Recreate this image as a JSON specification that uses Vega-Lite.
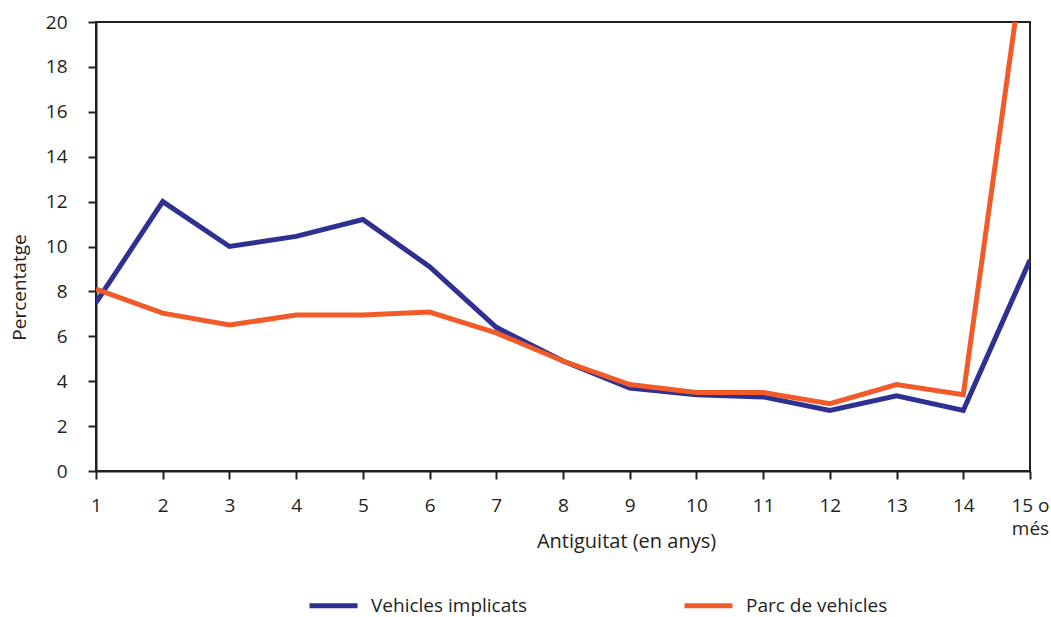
{
  "$schema": "https://vega.github.io/schema/vega-lite/v6.json",
  "width": 934,
  "height": 449,
  "autosize": {"type": "none"},
  "padding": {"left": 96, "top": 22, "right": 21, "bottom": 146},
  "background": "white",
  "config": {
    "font": "Open Sans",
    "view": {"stroke": "#231f20", "strokeWidth": 2},
    "axis": {"labelFont": "Open Sans", "titleFont": "Open Sans", "labelColor": "#231f20", "titleColor": "#231f20", "domainColor": "#231f20", "tickColor": "#231f20", "domainWidth": 2, "tickWidth": 2, "grid": false, "labelFontSize": 19, "titleFontSize": 19, "titleFontWeight": "normal", "tickSize": 8}
  },
  "data": {
    "values": [
      {"antiguitat": 1, "serie": "Vehicles implicats", "pct": 7.5},
      {"antiguitat": 2, "serie": "Vehicles implicats", "pct": 12.0},
      {"antiguitat": 3, "serie": "Vehicles implicats", "pct": 10.0},
      {"antiguitat": 4, "serie": "Vehicles implicats", "pct": 10.45},
      {"antiguitat": 5, "serie": "Vehicles implicats", "pct": 11.2},
      {"antiguitat": 6, "serie": "Vehicles implicats", "pct": 9.1},
      {"antiguitat": 7, "serie": "Vehicles implicats", "pct": 6.4},
      {"antiguitat": 8, "serie": "Vehicles implicats", "pct": 4.9},
      {"antiguitat": 9, "serie": "Vehicles implicats", "pct": 3.7},
      {"antiguitat": 10, "serie": "Vehicles implicats", "pct": 3.4},
      {"antiguitat": 11, "serie": "Vehicles implicats", "pct": 3.3},
      {"antiguitat": 12, "serie": "Vehicles implicats", "pct": 2.7},
      {"antiguitat": 13, "serie": "Vehicles implicats", "pct": 3.35},
      {"antiguitat": 14, "serie": "Vehicles implicats", "pct": 2.7},
      {"antiguitat": 15, "serie": "Vehicles implicats", "pct": 9.4},
      {"antiguitat": 1, "serie": "Parc de vehicles", "pct": 8.1},
      {"antiguitat": 2, "serie": "Parc de vehicles", "pct": 7.03},
      {"antiguitat": 3, "serie": "Parc de vehicles", "pct": 6.5},
      {"antiguitat": 4, "serie": "Parc de vehicles", "pct": 6.95},
      {"antiguitat": 5, "serie": "Parc de vehicles", "pct": 6.95},
      {"antiguitat": 6, "serie": "Parc de vehicles", "pct": 7.08},
      {"antiguitat": 7, "serie": "Parc de vehicles", "pct": 6.15},
      {"antiguitat": 8, "serie": "Parc de vehicles", "pct": 4.9},
      {"antiguitat": 9, "serie": "Parc de vehicles", "pct": 3.85},
      {"antiguitat": 10, "serie": "Parc de vehicles", "pct": 3.5},
      {"antiguitat": 11, "serie": "Parc de vehicles", "pct": 3.5},
      {"antiguitat": 12, "serie": "Parc de vehicles", "pct": 3.0},
      {"antiguitat": 13, "serie": "Parc de vehicles", "pct": 3.85},
      {"antiguitat": 14, "serie": "Parc de vehicles", "pct": 3.4},
      {"antiguitat": 15, "serie": "Parc de vehicles", "pct": 24.8}
    ]
  },
  "mark": {"type": "line", "strokeWidth": 5, "clip": true},
  "encoding": {
    "x": {
      "field": "antiguitat", "type": "quantitative",
      "scale": {"domain": [1, 15], "nice": false, "zero": false},
      "axis": {
        "values": [1,2,3,4,5,6,7,8,9,10,11,12,13,14,15],
        "title": "Antiguitat (en anys)",
        "titleFontSize": 20,
        "labelExpr": "datum.value == 15 ? ['15 o', 'més'] : datum.label",
        "labelPadding": 17,
        "labelLineHeight": 23,
        "labelFlush": false,
        "labelOverlap": false,
        "titleX": 530,
        "titleY": 60,
        "titleBaseline": "top",
        "titleAnchor": "middle"
      }
    },
    "y": {
      "field": "pct", "type": "quantitative",
      "scale": {"domain": [0, 20], "nice": false},
      "axis": {
        "values": [0,2,4,6,8,10,12,14,16,18,20],
        "title": "Percentatge",
        "labelPadding": 21,
        "titlePadding": 16,
        "titleY": 265
      }
    },
    "color": {
      "field": "serie", "type": "nominal",
      "scale": {"domain": ["Vehicles implicats", "Parc de vehicles"], "range": ["#2e3192", "#f15a29"]},
      "legend": {
        "title": null,
        "orient": "none",
        "legendX": 211,
        "legendY": 557,
        "direction": "horizontal",
        "columns": 2,
        "columnPadding": 146,
        "symbolType": "stroke",
        "symbolSize": 2304,
        "symbolStrokeWidth": 5,
        "labelFontSize": 19,
        "labelFont": "Open Sans",
        "labelColor": "#231f20",
        "labelOffset": 11
      }
    }
  }
}
